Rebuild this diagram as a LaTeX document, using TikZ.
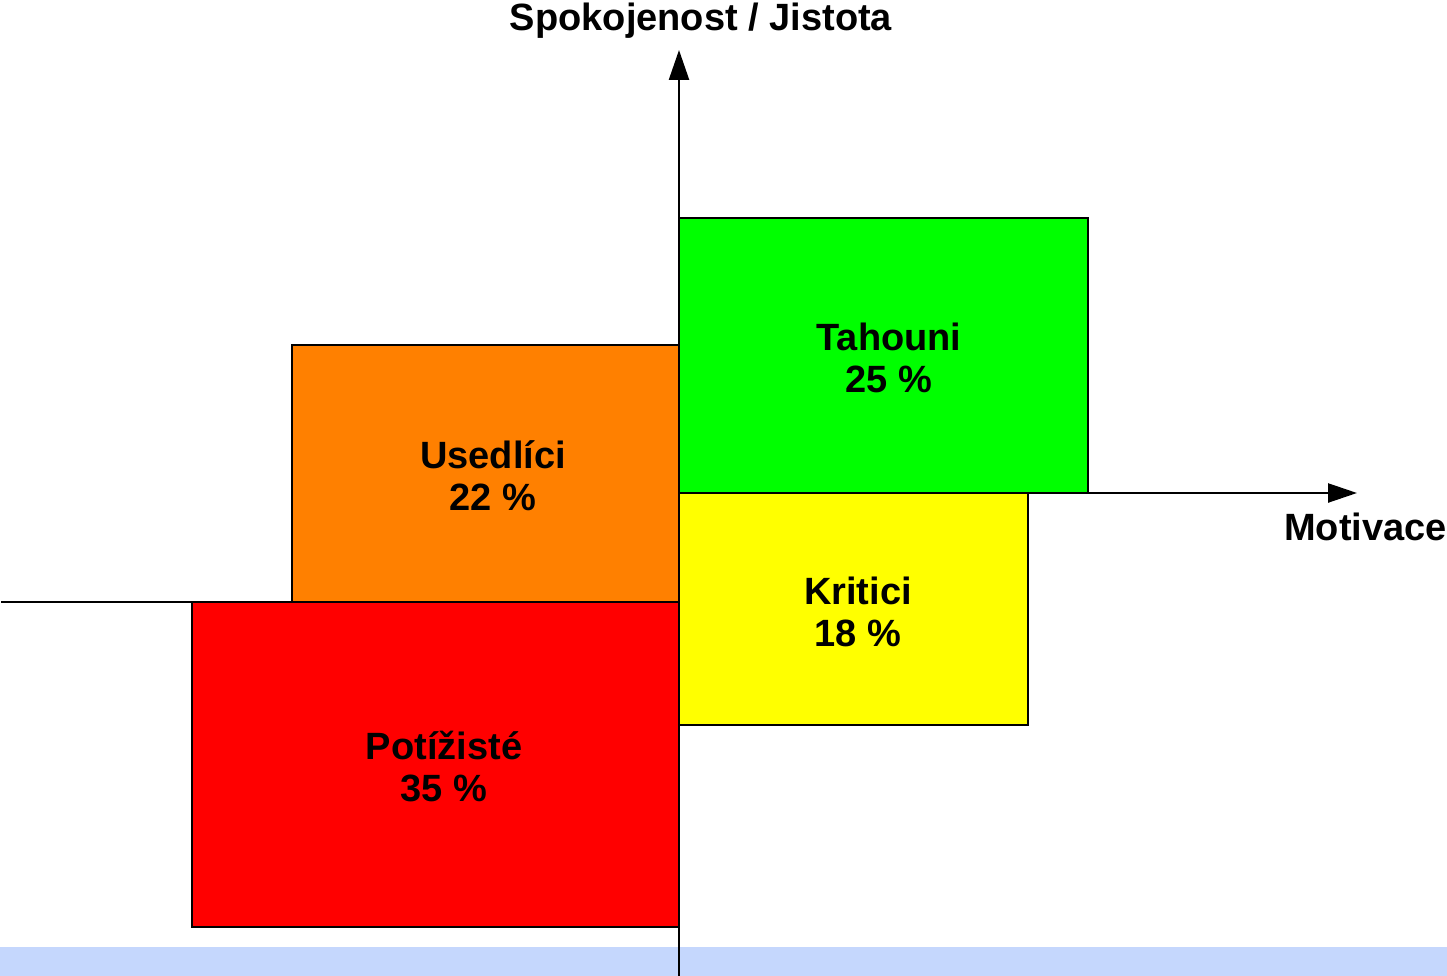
\documentclass[tikz,border=0pt]{standalone}
\usepackage{fontspec}
\setmainfont{Liberation Sans}
\usetikzlibrary{arrows.meta}
\definecolor{bandblue}{RGB}{197,215,253}
\definecolor{segorange}{RGB}{255,128,0}
\definecolor{seggreen}{RGB}{0,255,0}
\definecolor{segyellow}{RGB}{255,255,0}
\definecolor{segred}{RGB}{255,0,0}
\tikzset{
  segment/.style={draw=black, line width=2.6pt},
  seglabel/.style={font=\fontsize{38}{42}\selectfont\bfseries, align=center, inner sep=0pt},
  axislabel/.style={font=\fontsize{38}{42}\selectfont\bfseries, inner sep=0pt},
  axisline/.style={draw=black, line width=2.4pt}
}
\begin{document}
\begin{tikzpicture}[x=1pt,y=-1pt]
\useasboundingbox (0,0) rectangle (1447,976);
% bottom band
\fill[bandblue] (0,947) rectangle (1447,976);
% axes
\coordinate (origin) at (679,493);
\coordinate (ytop) at (679,50);
\coordinate (ybot) at (679,976);
\coordinate (xend) at (1357,493);
\coordinate (lstart) at (1,602);
\coordinate (lend) at (192,602);
\draw[axisline, -{Triangle[length=30pt,width=20pt]}] (ybot) -- (ytop);
\draw[axisline, -{Triangle[length=29pt,width=19pt]}] (origin) -- (xend);
\draw[axisline] (lstart) -- (lend);
% segments
\draw[segment, fill=seggreen] (679,218) rectangle (1088,493);
\draw[segment, fill=segorange] (292,345) rectangle (679,602);
\draw[segment, fill=segyellow] (679,493) rectangle (1028,725);
\draw[segment, fill=segred] (192,602) rectangle (679,927);
% labels
\node[seglabel] (tah) at (889,358) {Tahouni\\25 \%};
\node[seglabel] (use) at (493,476) {Usedlíci\\22 \%};
\node[seglabel] (kri) at (858,612) {Kritici\\18 \%};
\node[seglabel] (pot) at (444,767) {Potížisté\\35 \%};
\node[axislabel] (ylab) at (701,21) {Spokojenost / Jistota};
\node[axislabel, anchor=east] (xlab) at (1447,527) {Motivace};
\end{tikzpicture}
\end{document}
